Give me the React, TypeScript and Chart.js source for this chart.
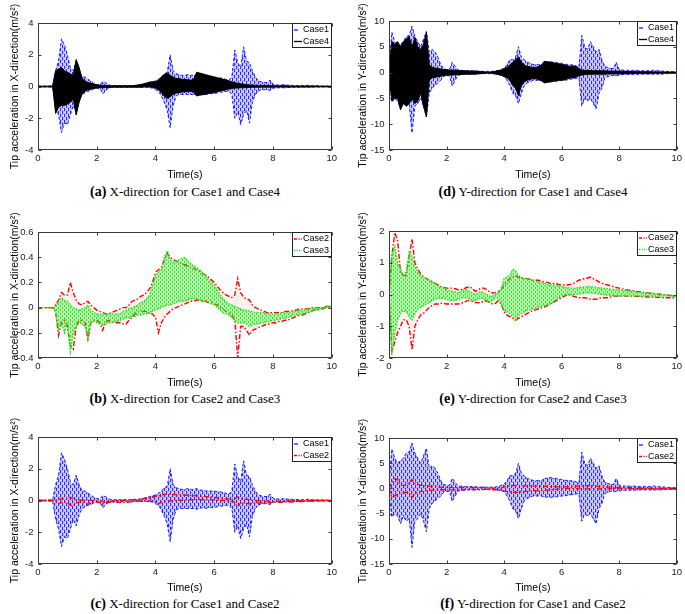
import React, { useEffect, useRef } from "react";
import { Chart, registerables } from "chart.js";

Chart.register(...registerables);

// ---- data: upper / lower envelopes of each signal, every 0.1 s ----
const TIME = Array.from({ length: 101 }, (_, i) => i / 10);
const X_TICK_STEP = 2;

const CASE1_X_UP = [
  0.02, 0.02, 0.02, 0.02, 0.03, 0.05, 1.0, 1.6, 3.0, 2.6,
  2.0, 1.2, 1.0, 1.6, 1.0, 0.6, 0.6, 0.45, 0.35, 0.2,
  0.12, 0.1, 0.3, 0.25, 0.1, 0.06, 0.05, 0.05, 0.05, 0.05,
  0.05, 0.05, 0.05, 0.05, 0.08, 0.1, 0.15, 0.2, 0.25, 0.3,
  0.35, 0.45, 0.6, 0.8, 0.9, 2.0, 1.0, 0.8, 0.75, 0.7,
  0.7, 0.75, 0.7, 0.7, 0.75, 0.65, 0.65, 0.6, 0.6, 0.6,
  0.6, 0.55, 0.55, 0.5, 0.45, 0.4, 0.6, 2.3, 1.5, 1.2,
  2.5, 1.6, 1.5, 1.0, 0.6, 0.35, 0.3, 0.25, 0.25, 0.4,
  0.15, 0.1, 0.1, 0.1, 0.12, 0.08, 0.08, 0.06, 0.06, 0.05,
  0.05, 0.05, 0.08, 0.05, 0.04, 0.04, 0.03, 0.03, 0.03, 0.02,
  0.02,
];
const CASE1_X_LO = [
  -0.02, -0.02, -0.02, -0.02, -0.03, -0.05, -1.2, -1.8, -2.9, -2.3,
  -2.4, -1.8, -1.2, -1.6, -0.9, -0.5, -0.4, -0.3, -0.25, -0.15,
  -0.1, -0.1, -0.45, -0.3, -0.1, -0.06, -0.05, -0.05, -0.05, -0.05,
  -0.05, -0.05, -0.05, -0.05, -0.05, -0.06, -0.05, -0.06, -0.08, -0.1,
  -0.2, -0.3, -0.6, -1.0, -1.5, -2.6, -1.2, -0.6, -0.5, -0.5,
  -0.5, -0.5, -0.5, -0.5, -0.55, -0.5, -0.45, -0.5, -0.45, -0.45,
  -0.45, -0.4, -0.35, -0.35, -0.3, -0.3, -0.5, -2.0, -1.6, -2.4,
  -1.8, -1.5, -2.3, -1.0, -0.5, -0.3, -0.2, -0.2, -0.2, -0.25,
  -0.1, -0.1, -0.08, -0.08, -0.08, -0.06, -0.06, -0.05, -0.05, -0.05,
  -0.04, -0.04, -0.04, -0.04, -0.03, -0.03, -0.03, -0.03, -0.02, -0.02,
  -0.02,
];
const CASE4_X_UP = [
  0.02, 0.02, 0.02, 0.02, 0.02, 0.03, 1.0, 1.1, 1.2, 1.0,
  0.9, 0.8, 0.7, 1.7, 1.2, 0.5, 0.35, 0.25, 0.2, 0.15,
  0.1, 0.09, 0.08, 0.07, 0.06, 0.05, 0.05, 0.05, 0.05, 0.05,
  0.05, 0.05, 0.05, 0.07, 0.1, 0.13, 0.17, 0.22, 0.28, 0.3,
  0.3, 0.4, 0.6, 0.75, 0.85, 0.7, 0.6, 0.5, 0.5, 0.45,
  0.45, 0.42, 0.4, 0.45, 0.9, 0.85, 0.8, 0.75, 0.7, 0.65,
  0.6, 0.55, 0.5, 0.45, 0.4, 0.35, 0.3, 0.25, 0.2, 0.17,
  0.15, 0.12, 0.1, 0.09, 0.08, 0.07, 0.06, 0.06, 0.06, 0.05,
  0.05, 0.04, 0.04, 0.04, 0.04, 0.04, 0.03, 0.03, 0.03, 0.03,
  0.03, 0.03, 0.03, 0.03, 0.03, 0.03, 0.02, 0.02, 0.02, 0.02,
  0.02,
];
const CASE4_X_LO = [
  -0.02, -0.02, -0.02, -0.02, -0.02, -0.03, -1.7, -1.3, -1.2, -1.2,
  -1.1, -1.0, -0.8, -1.8, -1.0, -0.45, -0.3, -0.2, -0.15, -0.12,
  -0.1, -0.09, -0.08, -0.07, -0.06, -0.05, -0.04, -0.04, -0.04, -0.04,
  -0.04, -0.04, -0.04, -0.04, -0.04, -0.04, -0.03, -0.02, -0.03, -0.05,
  -0.1, -0.2, -0.4, -0.6, -0.75, -0.65, -0.5, -0.42, -0.38, -0.35,
  -0.33, -0.32, -0.3, -0.35, -0.6, -0.55, -0.52, -0.5, -0.45, -0.4,
  -0.38, -0.33, -0.28, -0.25, -0.2, -0.15, -0.12, -0.1, -0.1, -0.08,
  -0.08, -0.07, -0.06, -0.05, -0.05, -0.04, -0.04, -0.04, -0.04, -0.04,
  -0.04, -0.03, -0.03, -0.03, -0.03, -0.03, -0.03, -0.03, -0.03, -0.03,
  -0.03, -0.03, -0.03, -0.03, -0.02, -0.02, -0.02, -0.02, -0.02, -0.02,
  -0.02,
];
const CASE1_Y_UP = [
  1.0, 7.8, 6.0, 5.0, 5.5, 6.0, 7.0, 7.2, 9.0, 7.0,
  6.0, 5.0, 6.5, 8.0, 4.0, 4.5, 4.0, 3.0, 1.5, 0.8,
  0.6, 0.6, 2.0, 1.2, 0.5, 0.45, 0.4, 0.35, 0.35, 0.35,
  0.35, 0.25, 0.25, 0.25, 0.25, 0.25, 0.25, 0.3, 0.4, 0.6,
  0.8, 1.5, 2.5, 2.5, 3.0, 5.0, 3.0, 2.5, 2.0, 1.8,
  1.6, 1.5, 1.6, 1.5, 2.0, 2.0, 2.2, 2.0, 2.0, 1.8,
  1.8, 1.6, 1.6, 1.5, 1.5, 1.3, 1.0, 7.2, 5.0, 4.5,
  6.0, 5.0, 4.0, 4.5, 2.5, 1.2, 1.0, 0.8, 0.8, 2.0,
  0.6, 0.5, 0.45, 0.45, 0.45, 0.45, 0.45, 0.35, 0.35, 0.35,
  0.35, 0.35, 0.5, 0.35, 0.35, 0.3, 0.25, 0.2, 0.2, 0.15,
  0.15,
];
const CASE1_Y_LO = [
  -1.0, -5.7, -5.0, -5.5, -7.0, -5.5, -6.5, -6.0, -11.7, -6.5,
  -6.0, -5.0, -6.5, -8.6, -4.0, -3.0, -2.5, -2.0, -1.5, -0.7,
  -0.6, -0.6, -2.6, -1.5, -0.5, -0.4, -0.35, -0.3, -0.3, -0.3,
  -0.3, -0.2, -0.2, -0.2, -0.2, -0.2, -0.2, -0.3, -0.35, -0.5,
  -0.6, -1.5, -2.5, -4.0, -4.5, -6.0, -4.0, -2.5, -2.0, -1.8,
  -1.5, -1.5, -1.5, -1.5, -1.8, -1.7, -1.8, -1.7, -1.7, -1.6,
  -1.5, -1.5, -1.4, -1.3, -1.2, -1.1, -1.0, -6.5, -5.0, -5.5,
  -5.0, -6.0, -7.0, -4.0, -3.0, -1.0, -0.8, -0.6, -0.6, -0.6,
  -0.5, -0.4, -0.35, -0.35, -0.35, -0.35, -0.35, -0.3, -0.3, -0.3,
  -0.3, -0.3, -0.3, -0.3, -0.3, -0.3, -0.2, -0.2, -0.15, -0.15,
  -0.15,
];
const CASE4_Y_UP = [
  0.5, 6.0, 5.5, 6.0, 5.0, 6.0, 6.5, 7.0, 5.0, 6.8,
  5.0, 4.5, 5.5, 7.8, 1.5, 1.0, 0.9, 0.8, 0.7, 0.6,
  0.55, 0.5, 0.48, 0.45, 0.42, 0.4, 0.35, 0.35, 0.33, 0.3,
  0.3, 0.25, 0.2, 0.15, 0.1, 0.1, 0.15, 0.25, 0.4, 0.5,
  0.8, 1.0, 1.5, 2.0, 2.5, 3.0, 2.0, 1.5, 1.2, 1.1,
  1.0, 1.0, 1.2, 1.5, 2.2, 2.1, 2.0, 1.9, 1.8, 1.7,
  1.6, 1.5, 1.3, 1.2, 1.3, 1.2, 0.8, 0.5, 0.45, 0.4,
  0.4, 0.35, 0.35, 0.35, 0.35, 0.35, 0.3, 0.3, 0.3, 0.3,
  0.3, 0.25, 0.23, 0.21, 0.2, 0.19, 0.18, 0.17, 0.16, 0.15,
  0.15, 0.15, 0.14, 0.13, 0.12, 0.12, 0.11, 0.1, 0.1, 0.1,
  0.1,
];
const CASE4_Y_LO = [
  -0.5, -5.5, -5.0, -5.0, -7.2, -6.0, -6.5, -6.0, -5.0, -6.0,
  -5.5, -4.0, -6.5, -8.6, -1.5, -1.0, -0.9, -0.8, -0.7, -0.6,
  -0.5, -0.48, -0.45, -0.42, -0.4, -0.38, -0.33, -0.32, -0.3, -0.3,
  -0.3, -0.25, -0.2, -0.15, -0.1, -0.1, -0.15, -0.25, -0.4, -0.5,
  -0.8, -1.0, -1.5, -2.5, -3.0, -4.5, -2.5, -1.8, -1.5, -1.3,
  -1.2, -1.2, -1.4, -1.6, -2.0, -1.9, -1.8, -1.7, -1.6, -1.5,
  -1.5, -1.4, -1.2, -1.0, -1.0, -0.9, -0.6, -0.5, -0.4, -0.35,
  -0.3, -0.3, -0.3, -0.3, -0.3, -0.3, -0.25, -0.25, -0.25, -0.25,
  -0.25, -0.2, -0.2, -0.18, -0.17, -0.16, -0.15, -0.15, -0.15, -0.15,
  -0.15, -0.12, -0.12, -0.12, -0.11, -0.11, -0.1, -0.1, -0.1, -0.1,
  -0.1,
];
const CASE2_X_UP = [
  0, 0, 0, 0, 0, 0, 0.02, 0.06, 0.12, 0.1,
  0.1, 0.2, 0.12, 0.06, 0.03, 0.02, 0.04, 0.05, 0.02, 0.0,
  -0.02, -0.03, -0.04, -0.05, -0.05, -0.04, -0.03, -0.02, -0.01, 0.0,
  0.0, 0.02, 0.05, 0.06, 0.07, 0.09, 0.1, 0.12, 0.15, 0.2,
  0.28, 0.3, 0.32, 0.38, 0.43, 0.4, 0.38, 0.37, 0.36, 0.35,
  0.34, 0.33, 0.32, 0.31, 0.3, 0.29, 0.27, 0.26, 0.24, 0.22,
  0.2, 0.17, 0.14, 0.12, 0.1, 0.09, 0.08, 0.1, 0.23, 0.12,
  0.08, 0.07, 0.06, 0.02, 0.0, -0.01, -0.02, -0.03, -0.04, -0.04,
  -0.04, -0.04, -0.04, -0.04, -0.03, -0.03, -0.03, -0.02, -0.02, -0.01,
  -0.01, -0.01, -0.01, 0.0, 0.0, 0.0, 0.0, 0.0, 0.01, 0.01,
  0.01,
];
const CASE2_X_LO = [
  0, 0, 0, 0, 0, 0, -0.03, -0.22, -0.12, -0.1,
  -0.15, -0.3, -0.33, -0.15, -0.1, -0.1, -0.12, -0.25, -0.12, -0.1,
  -0.1, -0.12, -0.18, -0.12, -0.1, -0.11, -0.12, -0.12, -0.12, -0.13,
  -0.13, -0.1, -0.08, -0.05, -0.03, -0.03, -0.03, -0.03, -0.05, -0.05,
  -0.08, -0.2, -0.12, -0.08, -0.05, -0.03, -0.01, 0.0, 0.01, 0.02,
  0.03, 0.04, 0.05, 0.05, 0.06, 0.06, 0.05, 0.05, 0.04, 0.04,
  0.03, 0.02, 0.0, -0.01, -0.03, -0.04, -0.06, -0.1, -0.4, -0.15,
  -0.15, -0.18, -0.22, -0.18, -0.17, -0.16, -0.15, -0.14, -0.13, -0.13,
  -0.12, -0.12, -0.11, -0.11, -0.1, -0.1, -0.09, -0.08, -0.07, -0.06,
  -0.06, -0.05, -0.04, -0.03, -0.02, -0.02, -0.01, -0.01, 0.0, 0.0,
  0.0,
];
const CASE3_X_UP = [
  0, 0, 0, 0, 0, 0, 0.0, 0.05, 0.08, 0.06,
  0.05, 0.02, 0.0, -0.01, -0.02, -0.01, 0.0, 0.02, -0.02, -0.04,
  -0.05, -0.05, -0.06, -0.06, -0.05, -0.05, -0.05, -0.05, -0.05, -0.03,
  -0.02, -0.01, 0.0, 0.01, 0.02, 0.04, 0.05, 0.07, 0.1, 0.18,
  0.25, 0.28, 0.3, 0.4, 0.45, 0.38, 0.36, 0.37, 0.38, 0.39,
  0.4, 0.37, 0.35, 0.33, 0.32, 0.3, 0.28, 0.25, 0.22, 0.2,
  0.18, 0.14, 0.1, 0.07, 0.05, 0.03, 0.02, 0.01, 0.0, -0.01,
  -0.02, -0.02, -0.03, -0.03, -0.04, -0.04, -0.04, -0.04, -0.05, -0.05,
  -0.05, -0.05, -0.05, -0.04, -0.04, -0.04, -0.04, -0.03, -0.03, -0.02,
  -0.02, -0.02, -0.01, -0.01, 0.0, 0.0, 0.0, 0.0, 0.01, 0.01,
  0.01,
];
const CASE3_X_LO = [
  0, 0, 0, 0, 0, 0, -0.03, -0.18, -0.12, -0.2,
  -0.12, -0.35, -0.2, -0.15, -0.12, -0.13, -0.15, -0.23, -0.12, -0.11,
  -0.12, -0.13, -0.15, -0.13, -0.12, -0.12, -0.11, -0.11, -0.1, -0.09,
  -0.08, -0.08, -0.07, -0.07, -0.06, -0.06, -0.05, -0.05, -0.04, -0.03,
  -0.02, -0.01, 0.0, 0.01, 0.02, 0.02, 0.03, 0.04, 0.05, 0.05,
  0.05, 0.06, 0.07, 0.07, 0.07, 0.06, 0.05, 0.05, 0.04, 0.03,
  0.02, 0.0, -0.02, -0.04, -0.05, -0.06, -0.08, -0.1, -0.12, -0.12,
  -0.12, -0.13, -0.15, -0.14, -0.13, -0.13, -0.12, -0.12, -0.11, -0.11,
  -0.1, -0.1, -0.09, -0.09, -0.08, -0.08, -0.07, -0.06, -0.06, -0.05,
  -0.05, -0.04, -0.04, -0.03, -0.02, -0.02, -0.01, -0.01, 0.0, 0.0,
  0.0,
];
const CASE2_Y_UP = [
  0.0, 1.2, 1.95, 1.7, 0.7, 0.6, 0.6, 1.2, 1.75, 1.0,
  0.8, 0.65, 0.55, 0.5, 0.45, 0.4, 0.35, 0.3, 0.25, 0.22,
  0.2, 0.2, 0.2, 0.18, 0.15, 0.15, 0.18, 0.22, 0.25, 0.18,
  0.1, 0.15, 0.2, 0.2, 0.15, 0.08, 0.05, 0.06, 0.1, 0.15,
  0.3, 0.4, 0.5, 0.55, 0.6, 0.55, 0.5, 0.5, 0.5, 0.48,
  0.45, 0.45, 0.45, 0.42, 0.4, 0.38, 0.35, 0.35, 0.35, 0.32,
  0.3, 0.3, 0.3, 0.32, 0.35, 0.4, 0.45, 0.48, 0.5, 0.52,
  0.55, 0.5, 0.45, 0.4, 0.35, 0.32, 0.3, 0.28, 0.25, 0.22,
  0.2, 0.18, 0.16, 0.14, 0.13, 0.12, 0.1, 0.09, 0.07, 0.06,
  0.05, 0.04, 0.03, 0.02, 0.01, 0.0, -0.01, -0.02, -0.03, -0.04,
  -0.05,
];
const CASE2_Y_LO = [
  0.0, -1.8, -1.5, -1.2, -1.0, -0.8, -0.8, -1.0, -1.75, -1.0,
  -0.8, -0.65, -0.6, -0.5, -0.4, -0.35, -0.3, -0.3, -0.28, -0.28,
  -0.3, -0.3, -0.3, -0.3, -0.3, -0.28, -0.25, -0.2, -0.2, -0.22,
  -0.25, -0.26, -0.25, -0.22, -0.2, -0.25, -0.3, -0.28, -0.2, -0.3,
  -0.55, -0.65, -0.7, -0.75, -0.8, -0.75, -0.7, -0.65, -0.6, -0.55,
  -0.5, -0.48, -0.45, -0.42, -0.4, -0.35, -0.3, -0.25, -0.2, -0.15,
  -0.1, -0.05, 0.0, -0.02, -0.05, -0.08, -0.1, -0.1, -0.1, -0.12,
  -0.15, -0.15, -0.15, -0.12, -0.1, -0.1, -0.1, -0.08, -0.05, -0.05,
  -0.05, -0.05, -0.05, -0.05, -0.05, -0.05, -0.06, -0.06, -0.07, -0.07,
  -0.08, -0.08, -0.08, -0.09, -0.09, -0.1, -0.1, -0.1, -0.1, -0.1,
  -0.1,
];
const CASE3_Y_UP = [
  0.0, 1.3, 1.5, 1.0, 0.8, 0.6, 0.7, 1.35, 1.2, 0.9,
  0.7, 0.6, 0.55, 0.5, 0.45, 0.4, 0.35, 0.3, 0.25, 0.2,
  0.15, 0.12, 0.1, 0.08, 0.06, 0.1, 0.15, 0.15, 0.1, 0.05,
  0.0, 0.05, 0.1, 0.05, 0.0, -0.05, -0.05, 0.0, 0.05, 0.2,
  0.5, 0.55, 0.6, 0.8, 0.75, 0.6, 0.55, 0.5, 0.5, 0.48,
  0.45, 0.42, 0.4, 0.38, 0.35, 0.32, 0.3, 0.3, 0.3, 0.28,
  0.25, 0.23, 0.22, 0.2, 0.2, 0.2, 0.22, 0.23, 0.24, 0.25,
  0.25, 0.24, 0.22, 0.21, 0.2, 0.19, 0.18, 0.17, 0.16, 0.15,
  0.15, 0.14, 0.13, 0.12, 0.11, 0.1, 0.08, 0.07, 0.06, 0.05,
  0.05, 0.04, 0.03, 0.02, 0.01, 0.0, -0.01, -0.02, -0.03, -0.04,
  -0.05,
];
const CASE3_Y_LO = [
  0.0, -1.9, -1.2, -0.8, -0.6, -0.5, -0.55, -0.7, -0.8, -0.6,
  -0.45, -0.4, -0.35, -0.3, -0.25, -0.2, -0.15, -0.12, -0.12, -0.12,
  -0.15, -0.18, -0.2, -0.18, -0.15, -0.12, -0.1, -0.12, -0.15, -0.18,
  -0.2, -0.15, -0.1, -0.15, -0.22, -0.25, -0.18, -0.12, -0.1, -0.3,
  -0.5, -0.55, -0.6, -0.7, -0.85, -0.65, -0.6, -0.55, -0.5, -0.48,
  -0.45, -0.42, -0.4, -0.38, -0.35, -0.32, -0.3, -0.25, -0.15, -0.1,
  -0.05, -0.02, 0.0, 0.0, 0.0, 0.0, 0.02, 0.03, 0.05, 0.05,
  0.05, 0.04, 0.03, 0.01, 0.0, -0.01, -0.02, -0.03, -0.04, -0.05,
  -0.05, -0.05, -0.05, -0.05, -0.05, -0.05, -0.05, -0.05, -0.05, -0.05,
  -0.05, -0.05, -0.05, -0.05, -0.05, -0.05, -0.05, -0.05, -0.05, -0.06,
  -0.06,
];

// ---- styles ----
type Style = { color: string; dash: number[]; width: number; legendDash: number[]; fill: string };
const STYLE: Record<string, Style> = {
  Case1: { color: "#1a1aff", dash: [3, 2], width: 1, legendDash: [4, 8], fill: "blueDash" },
  Case2: { color: "#ff0000", dash: [5, 2, 1.5, 2], width: 1.4, legendDash: [3, 1.5, 1.2, 1.5], fill: "rgba(255,0,0,0.06)" },
  Case3: { color: "#11ee11", dash: [1.5, 1.5], width: 1.4, legendDash: [1.2, 1.3], fill: "greenDot" },
  Case4: { color: "#000000", dash: [], width: 1, legendDash: [], fill: "#000000" },
};

function makePattern(kind: string): any {
  const c = document.createElement("canvas");
  if (kind === "blueDash") {
    c.width = 4; c.height = 6;
    const g = c.getContext("2d") as CanvasRenderingContext2D;
    g.fillStyle = "rgba(70,70,255,0.35)";
    g.fillRect(0, 0, 4, 6);
    g.fillStyle = "#2a2aff";
    g.fillRect(0, 0, 1, 3);
    g.fillRect(2, 3, 1, 3);
    g.fillStyle = "rgba(255,255,255,0.8)";
    g.fillRect(1, 4, 1, 1);
    g.fillRect(3, 1, 1, 1);
  } else if (kind === "greenDot") {
    c.width = 4; c.height = 4;
    const g = c.getContext("2d") as CanvasRenderingContext2D;
    g.fillStyle = "rgba(30,240,30,0.3)";
    g.fillRect(0, 0, 4, 4);
    g.fillStyle = "#22ee22";
    g.fillRect(0, 0, 1, 2);
    g.fillRect(2, 2, 1, 2);
  } else {
    return kind;
  }
  const ctx = c.getContext("2d") as CanvasRenderingContext2D;
  return ctx.createPattern(c, "repeat");
}

const COLS = [
  { canvasLeft: 0, plotLeft: 38, plotRight: 332, titleOffset: 8.7, capX: 185 },
  { canvasLeft: 345, plotLeft: 389, plotRight: 679, titleOffset: 12.2, capX: 533 },
];
const CANVAS_W = 340;
const ROWS = [
  { canvasTop: 0, plotBottom: 150, canvasBottom: 182, capY: 192 },
  { canvasTop: 205, plotBottom: 358, canvasBottom: 390, capY: 399 },
  { canvasTop: 410, plotBottom: 564, canvasBottom: 595, capY: 604 },
];

type Panel = {
  tag: string;
  caption: string;
  dir: string;
  series: [string, number[], number[]][];
  yMin: number;
  yMax: number;
  yStep: number;
  col: number;
  row: number;
  plotTop: number;
};

const PANELS: Panel[] = [
  { tag: "(a)", caption: "X-direction for Case1 and Case4", dir: "X", series: [["Case1", CASE1_X_UP, CASE1_X_LO], ["Case4", CASE4_X_UP, CASE4_X_LO]], yMin: -4, yMax: 4, yStep: 2, col: 0, row: 0, plotTop: 23 },
  { tag: "(d)", caption: "Y-direction for Case1 and Case4", dir: "Y", series: [["Case1", CASE1_Y_UP, CASE1_Y_LO], ["Case4", CASE4_Y_UP, CASE4_Y_LO]], yMin: -15, yMax: 10, yStep: 5, col: 1, row: 0, plotTop: 21 },
  { tag: "(b)", caption: "X-direction for Case2 and Case3", dir: "X", series: [["Case2", CASE2_X_UP, CASE2_X_LO], ["Case3", CASE3_X_UP, CASE3_X_LO]], yMin: -0.4, yMax: 0.6, yStep: 0.2, col: 0, row: 1, plotTop: 232 },
  { tag: "(e)", caption: "Y-direction for Case2 and Case3", dir: "Y", series: [["Case2", CASE2_Y_UP, CASE2_Y_LO], ["Case3", CASE3_Y_UP, CASE3_Y_LO]], yMin: -2, yMax: 2, yStep: 1, col: 1, row: 1, plotTop: 231 },
  { tag: "(c)", caption: "X-direction for Case1 and Case2", dir: "X", series: [["Case1", CASE1_X_UP, CASE1_X_LO], ["Case2", CASE2_X_UP, CASE2_X_LO]], yMin: -4, yMax: 4, yStep: 2, col: 0, row: 2, plotTop: 437 },
  { tag: "(f)", caption: "Y-direction for Case1 and Case2", dir: "Y", series: [["Case1", CASE1_Y_UP, CASE1_Y_LO], ["Case2", CASE2_Y_UP, CASE2_Y_LO]], yMin: -15, yMax: 10, yStep: 5, col: 1, row: 2, plotTop: 438 },
];

const SANS = '"Liberation Sans", Arial, sans-serif';
const AXIS_COLOR = "#3a3a3a";

const boxPlugin = {
  id: "matlabBox",
  afterDatasetsDraw(chart: any) {
    const { ctx, chartArea, scales } = chart;
    const l = Math.round(chartArea.left) + 0.5;
    const r = Math.round(chartArea.right) - 0.5;
    const t = Math.round(chartArea.top) + 0.5;
    const b = Math.round(chartArea.bottom) - 0.5;
    ctx.save();
    ctx.strokeStyle = AXIS_COLOR;
    ctx.lineWidth = 1;
    ctx.setLineDash([]);
    ctx.strokeRect(l, t, r - l, b - t);
    const tl = 3;
    ctx.beginPath();
    scales.x.ticks.forEach((tk: any) => {
      const px = Math.round(scales.x.getPixelForValue(tk.value)) + 0.5;
      ctx.moveTo(px, b); ctx.lineTo(px, b - tl);
      ctx.moveTo(px, t); ctx.lineTo(px, t + tl);
    });
    scales.y.ticks.forEach((tk: any) => {
      const py = Math.round(scales.y.getPixelForValue(tk.value)) + 0.5;
      ctx.moveTo(l, py); ctx.lineTo(l + tl, py);
      ctx.moveTo(r, py); ctx.lineTo(r - tl, py);
    });
    ctx.stroke();
    ctx.restore();
  },
};

const legendPlugin = {
  id: "boxLegend",
  afterDraw(chart: any) {
    const { ctx, chartArea } = chart;
    const ds = chart.data.datasets.filter((d: any) => d.inLegend);
    const w = 40;
    const h = 25;
    const x0 = Math.round(chartArea.right) - w;
    const y0 = Math.round(chartArea.top);
    ctx.save();
    ctx.fillStyle = "#ffffff";
    ctx.fillRect(x0, y0, w, h);
    ctx.strokeStyle = "#222";
    ctx.lineWidth = 1;
    ctx.setLineDash([]);
    ctx.strokeRect(x0 + 0.5, y0 + 0.5, w - 1, h - 1);
    ds.forEach((d: any, i: number) => {
      const cy = y0 + 7 + i * 11.5;
      ctx.strokeStyle = d.borderColor;
      ctx.lineWidth = 1.3;
      ctx.setLineDash(d.legendDash);
      ctx.beginPath();
      ctx.moveTo(x0 + 2, cy);
      ctx.lineTo(x0 + 10, cy);
      ctx.stroke();
      ctx.setLineDash([]);
      ctx.fillStyle = "#000";
      ctx.font = `9px ${SANS}`;
      ctx.textBaseline = "middle";
      ctx.textAlign = "left";
      ctx.fillText(d.label, x0 + 11, cy);
    });
    ctx.restore();
  },
};

function PanelChart({ p }: { p: Panel }) {
  const ref = useRef<HTMLCanvasElement>(null);
  const col = COLS[p.col];
  const row = ROWS[p.row];
  const H = row.canvasBottom - row.canvasTop;

  useEffect(() => {
    const yW = col.plotLeft - col.canvasLeft;
    const padRight = CANVAS_W - (col.plotRight - col.canvasLeft);
    const padTop = p.plotTop - row.canvasTop;
    const xH = row.canvasBottom - row.plotBottom;
    const n = p.series.length;
    const datasets: any[] = [];
    p.series.forEach(([name, up, lo], i) => {
      const s = STYLE[name];
      const base = (n - i) * 2;
      const common = {
        borderColor: s.color,
        borderWidth: s.width,
        borderDash: s.dash,
        pointRadius: 0,
        tension: 0,
      };
      datasets.push({
        ...common,
        label: name,
        inLegend: true,
        legendDash: s.legendDash,
        data: up.map((v, k) => ({ x: TIME[k], y: v })),
        fill: false,
        order: base - 1,
      });
      datasets.push({
        ...common,
        label: name + " lower",
        data: lo.map((v, k) => ({ x: TIME[k], y: v })),
        fill: "-1",
        backgroundColor: makePattern(s.fill),
        order: base,
      });
    });
    const chart = new Chart(ref.current as HTMLCanvasElement, {
      type: "line",
      data: { datasets },
      options: {
        animation: false,
        responsive: false,
        maintainAspectRatio: false,
        events: [],
        layout: { padding: { top: padTop, right: padRight, left: 0, bottom: 0 } },
        plugins: { legend: { display: false }, tooltip: { enabled: false }, title: { display: false }, filler: { propagate: false } },
        scales: {
          x: {
            type: "linear",
            min: 0,
            max: 10,
            grid: { display: false, drawTicks: false },
            border: { display: false },
            ticks: { stepSize: X_TICK_STEP, color: "#1a1a1a", font: { family: SANS, size: 9.5 }, padding: 3, maxRotation: 0, autoSkip: false },
            title: { display: true, text: "Time(s)", color: "#000", font: { family: SANS, size: 10.5 }, padding: { top: 0, bottom: 1 } },
            afterFit: (s: any) => { s.height = xH; },
          },
          y: {
            type: "linear",
            min: p.yMin,
            max: p.yMax,
            grid: { display: false, drawTicks: false },
            border: { display: false },
            ticks: { stepSize: p.yStep, color: "#1a1a1a", font: { family: SANS, size: 9.5 }, padding: 4.5 },
            title: {
              display: true,
              text: `Tip acceleration in ${p.dir}-direction(m/s\u00B2)`,
              color: "#000",
              font: { family: SANS, size: 10.5 },
              padding: { top: col.titleOffset, bottom: 0 },
            },
            afterFit: (s: any) => { s.width = yW; },
          },
        },
      } as any,
      plugins: [boxPlugin, legendPlugin],
    });
    return () => chart.destroy();
  }, []);

  return (
    <canvas
      ref={ref}
      width={CANVAS_W}
      height={H}
      style={{ position: "absolute", left: col.canvasLeft, top: row.canvasTop, width: CANVAS_W, height: H }}
    />
  );
}

export default function App() {
  return (
    <div style={{ position: "absolute", left: 0, top: 0, width: 685, height: 614, background: "#fff", overflow: "hidden" }}>
      {PANELS.map((p) => (
        <PanelChart key={p.tag} p={p} />
      ))}
      {PANELS.map((p) => (
        <div
          key={"cap" + p.tag}
          style={{
            position: "absolute",
            left: COLS[p.col].capX - 160,
            width: 320,
            top: ROWS[p.row].capY - 9,
            height: 18,
            lineHeight: "18px",
            textAlign: "center",
            fontFamily: '"Liberation Serif", "Times New Roman", serif',
            fontSize: 13,
            color: "#000",
            whiteSpace: "nowrap",
          }}
        >
          <b style={{ fontSize: 14 }}>{p.tag}</b> {p.caption}
        </div>
      ))}
    </div>
  );
}
